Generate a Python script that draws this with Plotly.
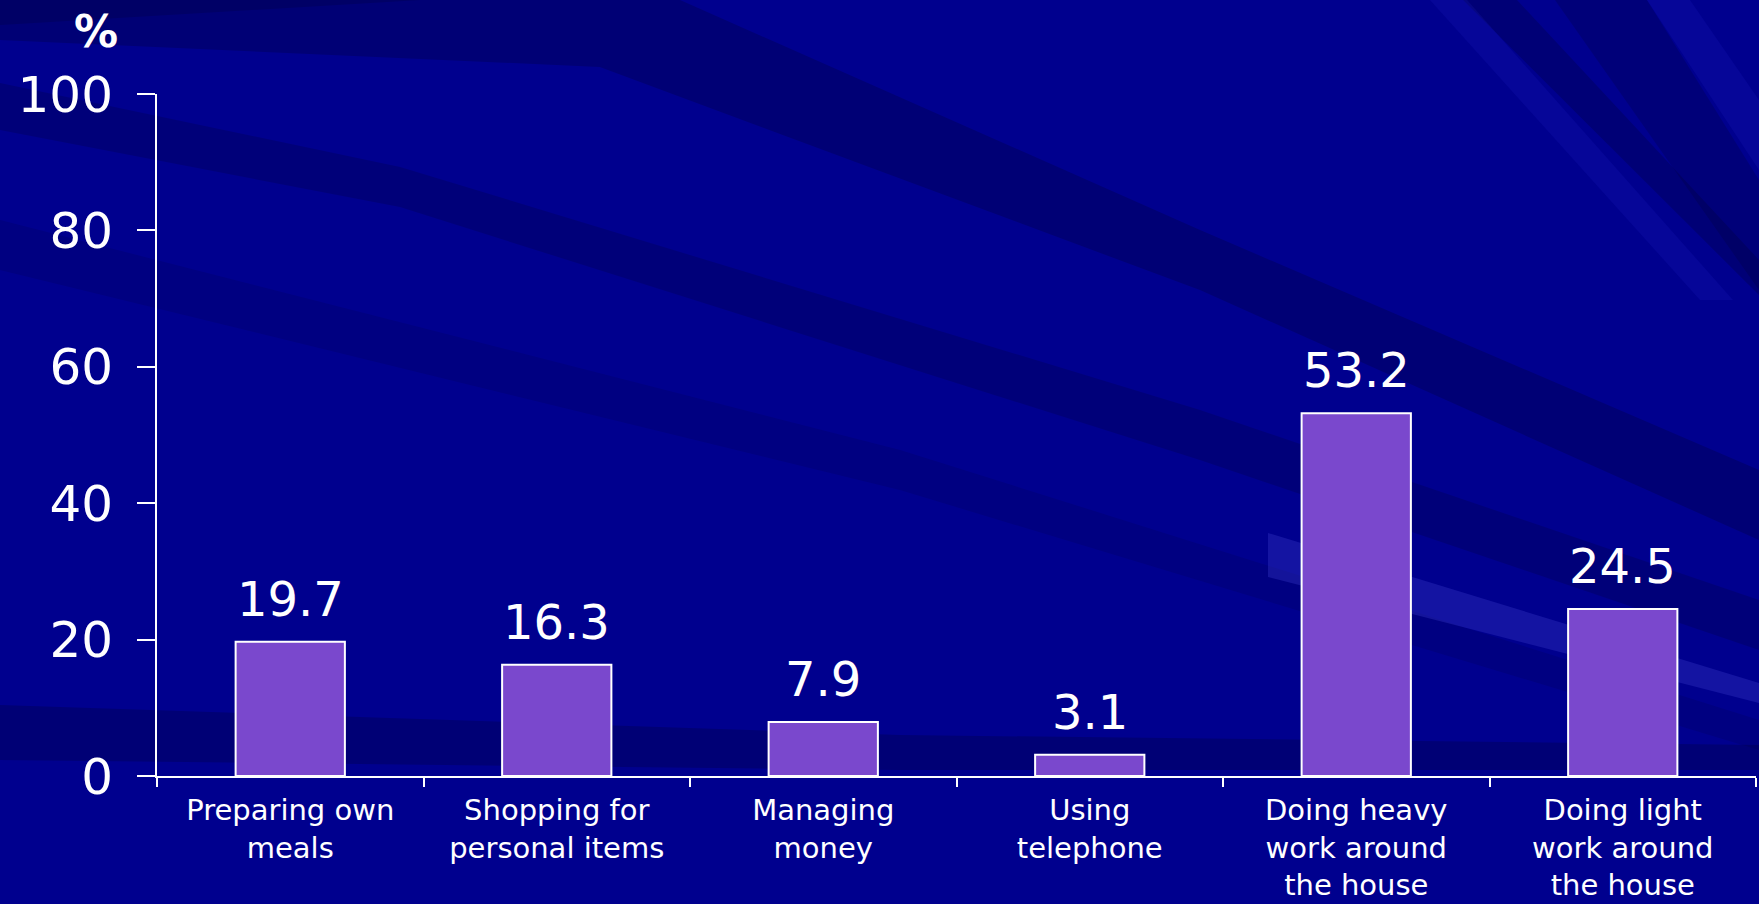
import plotly.graph_objects as go

# Data
categories = [
    "Preparing own<br>meals",
    "Shopping for<br>personal items",
    "Managing<br>money",
    "Using<br>telephone",
    "Doing heavy<br>work around<br>the house",
    "Doing light<br>work around<br>the house",
]
values = [19.7, 16.3, 7.9, 3.1, 53.2, 24.5]
y_ticks = [0, 20, 40, 60, 80, 100]

# Page geometry (pixels)
W, H = 1759, 904
L, R, T, B = 157, 3, 94, 128
PW, PH = W - L - R, H - T - B

FONT = "DejaVu Sans"
BAR = "#7A48CD"


def to_paper(x, y):
    return (x - L) / PW, (H - B - y) / PH


def px_path(points):
    """Turn a pixel-space polygon into a paper-space SVG path."""
    parts = []
    for i, (x, y) in enumerate(points):
        xp, yp = to_paper(x, y)
        parts.append(("M" if i == 0 else "L") + f"{xp:.4f},{yp:.4f}")
    return " ".join(parts) + " Z"


# Background streaks of the slide template
streaks = [
    # darker sweep from the top-left corner
    ([(0, 0), (680, 0), (1200, 230), (1759, 470), (1759, 540), (1200, 290), (600, 67), (0, 40)], "#000030", 0.26),
    ([(0, 0), (420, 0), (0, 25)], "#000030", 0.22),
    # dark bands running down to the right
    ([(0, 83), (400, 167), (1200, 410), (1759, 600), (1759, 650), (1200, 460), (400, 207), (0, 130)], "#000030", 0.22),
    ([(0, 220), (900, 450), (1759, 720), (1759, 750), (900, 490), (0, 270)], "#000030", 0.14),
    # dark band behind the baseline
    ([(0, 705), (900, 735), (1759, 745), (1759, 770), (900, 770), (0, 760)], "#000030", 0.26),
    # pale streak at the lower right
    ([(1268, 533), (1759, 683), (1759, 703), (1268, 577)], "#3838C8", 0.35),
    # steep streaks at the top right
    ([(1463, 0), (1517, 0), (1759, 260), (1759, 295)], "#000030", 0.25),
    ([(1555, 0), (1647, 0), (1759, 180), (1759, 290)], "#000030", 0.22),
    ([(1430, 0), (1467, 0), (1733, 300), (1700, 300)], "#2020C8", 0.18),
    ([(1647, 0), (1690, 0), (1759, 100), (1759, 170)], "#2020C8", 0.18),
]

shapes = [
    dict(type="path", xref="paper", yref="paper", path=px_path(pts),
         fillcolor=col, opacity=op, line=dict(width=0), layer="below")
    for pts, col, op in streaks
]

fig = go.Figure(
    go.Bar(
        x=categories,
        y=values,
        marker=dict(color=BAR, line=dict(color="white", width=2)),
        width=0.41,
        hoverinfo="x+y",
    )
)

# value labels above each bar
annotations = [
    dict(x=c, y=v, xref="x", yref="y", text=f"{v:.1f}", showarrow=False,
         yanchor="bottom", yshift=13,
         font=dict(family=FONT, size=48, color="white"))
    for c, v in zip(categories, values)
]

# unit label above the value axis
px, py = to_paper(96, 31)
annotations.append(
    dict(x=px, y=py, xref="paper", yref="paper", text="<b>%</b>", showarrow=False,
         xanchor="center", yanchor="middle",
         font=dict(family=FONT, size=44, color="white"))
)

fig.update_layout(
    width=W,
    height=H,
    margin=dict(l=L, r=R, t=T, b=B, pad=0),
    paper_bgcolor="#00008E",
    plot_bgcolor="rgba(0,0,0,0)",
    showlegend=False,
    shapes=shapes,
    annotations=annotations,
    xaxis=dict(
        type="category",
        automargin=False,
        tickson="boundaries",
        ticks="outside",
        ticklen=9,
        tickwidth=2,
        tickcolor="white",
        showline=True,
        linecolor="white",
        linewidth=2,
        showgrid=False,
        ticklabelstandoff=7,
        tickfont=dict(family=FONT, size=29, color="white"),
    ),
    yaxis=dict(
        range=[0, 100],
        automargin=False,
        tickvals=y_ticks,
        ticks="outside",
        ticklen=18,
        tickwidth=2,
        tickcolor="white",
        showline=True,
        linecolor="white",
        linewidth=2,
        showgrid=False,
        zeroline=False,
        ticklabelstandoff=14,
        tickfont=dict(family=FONT, size=50, color="white"),
    ),
)

fig.write_html("out.html")
